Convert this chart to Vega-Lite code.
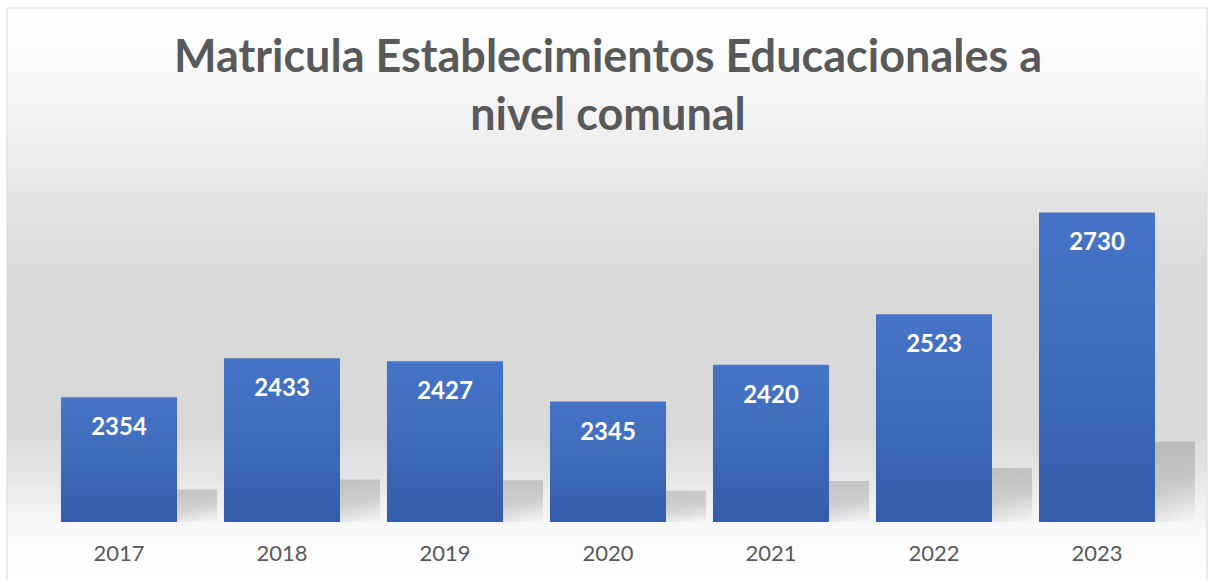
{
  "$schema": "https://vega.github.io/schema/vega-lite/v6.json",
  "width": 1141,
  "height": 344,
  "autosize": {"type": "none"},
  "padding": {"left": 37.5, "top": 178, "right": 31.5, "bottom": 58},
  "background": "#ffffff",
  "config": {"view": {"stroke": null}},
  "title": {
    "text": ["Matricula Establecimientos Educacionales a", "nivel comunal"],
    "font": "Lato",
    "fontWeight": "bold",
    "fontSize": 45,
    "lineHeight": 58,
    "color": "#595959",
    "anchor": "middle",
    "offset": -131
  },
  "datasets": {
    "matricula": [
      {"year": "2017", "value": 2354},
      {"year": "2018", "value": 2433},
      {"year": "2019", "value": 2427},
      {"year": "2020", "value": 2345},
      {"year": "2021", "value": 2420},
      {"year": "2022", "value": 2523},
      {"year": "2023", "value": 2730}
    ],
    "frame": [{"left": 0, "right": 1, "bottom": 0, "top": 1}]
  },
  "resolve": {"scale": {"x": "independent", "y": "independent"}},
  "layer": [
    {
      "data": {"name": "frame"},
      "mark": {
        "type": "rect",
        "stroke": "#d9d9d9",
        "strokeWidth": 1,
        "color": {
          "gradient": "linear",
          "x1": 0, "y1": 0, "x2": 0, "y2": 1,
          "stops": [
            {"offset": 0, "color": "#ffffff"},
            {"offset": 0.09, "color": "#fbfbfb"},
            {"offset": 0.16, "color": "#f5f5f5"},
            {"offset": 0.246, "color": "#eeeeee"},
            {"offset": 0.333, "color": "#e4e4e4"},
            {"offset": 0.42, "color": "#dcdcdc"},
            {"offset": 0.506, "color": "#d9d9d9"},
            {"offset": 0.735, "color": "#d9d9d9"},
            {"offset": 0.815, "color": "#e6e6e6"},
            {"offset": 0.867, "color": "#f2f2f2"},
            {"offset": 0.92, "color": "#fbfbfb"},
            {"offset": 1, "color": "#ffffff"}
          ]
        }
      },
      "encoding": {
        "x": {"field": "left", "type": "quantitative", "scale": {"domain": [0.025417, 0.97625], "nice": false, "zero": false}, "axis": null},
        "x2": {"field": "right"},
        "y": {"field": "bottom", "type": "quantitative", "scale": {"domain": [0.10919, 0.70538], "nice": false, "zero": false}, "axis": null},
        "y2": {"field": "top"}
      }
    },
    {
      "data": {"name": "matricula"},
      "mark": {
        "type": "bar",
        "xOffset": 40,
        "color": {
          "gradient": "linear",
          "x1": 0.3, "y1": 0, "x2": 1, "y2": 1,
          "stops": [
            {"offset": 0, "color": "rgba(0,0,0,0.17)"},
            {"offset": 0.6, "color": "rgba(0,0,0,0.14)"},
            {"offset": 1, "color": "rgba(0,0,0,0)"}
          ]
        }
      },
      "encoding": {
        "x": {"field": "year", "type": "ordinal", "sort": null, "scale": {"paddingInner": 0.288, "paddingOuter": 0.144}, "axis": null},
        "y": {"field": "value", "type": "quantitative", "scale": {"domain": [2100, 4790], "nice": false, "zero": false}, "axis": null},
        "y2": {"datum": 2100}
      }
    },
    {
      "data": {"name": "matricula"},
      "mark": {
        "type": "bar",
        "color": {
          "gradient": "linear",
          "x1": 0, "y1": 0, "x2": 0, "y2": 1,
          "stops": [
            {"offset": 0, "color": "#4674c6"},
            {"offset": 0.5, "color": "#3f6bbc"},
            {"offset": 1, "color": "#345ca8"}
          ]
        }
      },
      "encoding": {
        "x": {
          "field": "year", "type": "ordinal", "sort": null,
          "scale": {"paddingInner": 0.288, "paddingOuter": 0.144},
          "axis": {
            "title": null, "ticks": false, "domain": false, "grid": false,
            "labelFont": "Lato", "labelFontSize": 22, "labelColor": "#595959",
            "labelPadding": 21, "labelAngle": 0, "zindex": 2
          }
        },
        "y": {"field": "value", "type": "quantitative", "scale": {"domain": [2100, 2800], "nice": false, "zero": false}, "axis": null},
        "y2": {"datum": 2100}
      }
    },
    {
      "data": {"name": "matricula"},
      "mark": {
        "type": "text",
        "font": "Lato",
        "fontWeight": "bold",
        "fontSize": 24,
        "color": "#ffffff",
        "baseline": "middle",
        "dy": 31
      },
      "encoding": {
        "x": {"field": "year", "type": "ordinal", "sort": null, "scale": {"paddingInner": 0.288, "paddingOuter": 0.144}, "axis": null},
        "y": {"field": "value", "type": "quantitative", "scale": {"domain": [2100, 2800], "nice": false, "zero": false}, "axis": null},
        "text": {"field": "value", "type": "quantitative", "format": "d"}
      }
    }
  ]
}
